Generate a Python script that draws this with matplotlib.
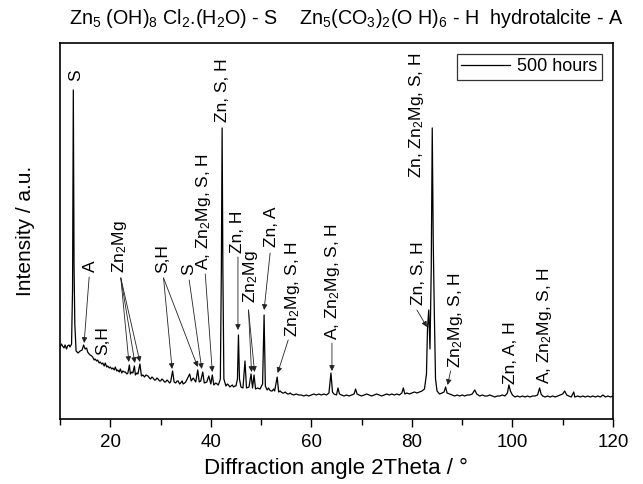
import matplotlib
matplotlib.use("Agg")
import matplotlib.pyplot as plt
from matplotlib.ticker import MultipleLocator

plt.rcParams['font.family'] = ['Liberation Sans', 'DejaVu Sans']
plt.rcParams['mathtext.fontset'] = 'custom'
plt.rcParams['mathtext.rm'] = 'Liberation Sans'
plt.rcParams['mathtext.it'] = 'Liberation Sans'

# ---------------- data (2Theta in degrees, intensity in arbitrary units) -------------
two_theta = [
    10.0, 10.3, 10.5, 10.8, 11.0, 11.3, 11.5, 11.8, 12.0, 12.3, 12.5, 12.65, 12.8, 12.95,
    13.2, 13.6, 14.0, 14.4, 14.7, 15.0, 15.3, 15.5, 15.8, 16.0, 16.3, 16.5, 16.8, 17.0,
    17.3, 17.5, 17.8, 18.0, 18.3, 18.5, 18.8, 19.0, 19.3, 19.5, 19.8, 20.0, 20.3, 20.5,
    20.8, 21.0, 21.3, 21.5, 21.8, 22.0, 22.3, 22.5, 22.8, 23.0, 23.3, 23.5, 23.8, 24.0,
    24.3, 24.5, 24.8, 25.0, 25.3, 25.5, 25.9, 26.2, 26.5, 26.8, 27.1, 27.5, 27.8, 28.0,
    28.3, 28.5, 28.8, 29.0, 29.3, 29.5, 29.8, 30.0, 30.3, 30.5, 30.8, 31.0, 31.3, 31.5,
    31.8, 32.0, 32.4, 32.7, 33.0, 33.3, 33.5, 33.8, 34.0, 34.3, 34.5, 34.8, 35.0, 35.5,
    35.8, 36.1, 36.5, 37.0, 37.4, 37.7, 38.0, 38.4, 38.7, 39.2, 39.6, 40.0, 40.3, 40.6,
    41.0, 41.5, 41.9, 42.1, 42.25, 42.4, 42.6, 43.0, 43.3, 43.5, 43.8, 44.0, 44.3, 44.5,
    44.8, 45.0, 45.3, 45.5, 45.7, 46.0, 46.4, 46.8, 47.1, 47.6, 48.0, 48.3, 48.6, 48.9,
    49.3, 49.8, 50.3, 50.6, 50.85, 51.2, 51.5, 51.7, 52.0, 52.2, 52.5, 52.7, 53.2, 53.5,
    53.8, 54.0, 54.3, 54.5, 54.8, 55.0, 55.3, 55.5, 55.8, 56.0, 56.5, 57.0, 57.5, 58.0,
    58.5, 59.0, 59.5, 60.0, 60.5, 61.0, 61.5, 62.0, 62.5, 63.0, 63.5, 63.9, 64.2, 64.5,
    65.0, 65.3, 65.6, 66.0, 66.5, 67.0, 67.5, 68.0, 68.5, 68.8, 69.1, 69.5, 70.0, 70.5,
    71.0, 71.5, 72.0, 72.5, 73.0, 73.5, 74.0, 74.5, 75.0, 75.5, 76.0, 76.5, 77.0, 77.5,
    78.0, 78.3, 78.6, 79.0, 79.5, 80.0, 80.5, 81.0, 81.5, 82.0, 82.5, 82.9, 83.1, 83.35,
    83.6, 83.85, 84.05, 84.25, 84.45, 84.7, 85.0, 85.5, 86.0, 86.4, 86.7, 87.0, 87.5, 88.0,
    88.5, 89.0, 89.5, 90.0, 90.5, 91.0, 91.5, 92.0, 92.5, 92.9, 93.5, 94.0, 94.5, 95.0,
    95.5, 96.0, 96.5, 97.0, 97.5, 98.0, 98.5, 99.0, 99.3, 99.6, 100.0, 100.5, 101.0, 101.5,
    102.0, 102.5, 103.0, 103.5, 104.0, 104.5, 105.0, 105.4, 105.7, 106.0, 106.5, 107.0, 107.5, 108.0,
    108.5, 109.0, 109.5, 110.0, 110.4, 110.8, 111.2, 111.7, 112.2, 112.4, 113.0, 113.5, 114.0, 114.5,
    115.0, 115.5, 116.0, 116.5, 117.0, 117.5, 118.0, 118.5, 119.0, 119.5, 120.0,
]
intensity = [
    72, 75, 73, 71, 74, 70, 73, 74, 72, 75, 130, 329, 150, 95,
    68, 66, 68, 69, 74, 70, 71, 67, 65, 64, 63, 62, 59, 60,
    58, 59, 56, 57, 55, 56, 53, 56, 52, 53, 51, 52, 50, 51,
    49, 52, 48, 49, 47, 50, 46, 48, 47, 47, 45, 46, 54, 45,
    47, 46, 53, 44, 46, 45, 55, 43, 44, 42, 44, 43, 41, 40,
    42, 41, 39, 39, 41, 40, 38, 38, 40, 39, 37, 37, 39, 38,
    36, 37, 48, 37, 36, 38, 38, 35, 36, 38, 35, 36, 37, 42,
    45, 38, 41, 37, 49, 37, 38, 47, 36, 37, 43, 35, 44, 34,
    36, 34, 40, 150, 291, 150, 40, 33, 35, 34, 32, 33, 34, 32,
    33, 33, 40, 84, 40, 32, 31, 58, 31, 32, 45, 31, 44, 30,
    31, 30, 35, 104, 33, 29, 31, 29, 28, 28, 30, 28, 42, 27,
    28, 27, 26, 26, 27, 26, 25, 25, 26, 25, 24, 25, 24, 24,
    23, 24, 23, 24, 25, 24, 25, 24, 25, 24, 26, 46, 27, 25,
    24, 31, 25, 24, 23, 24, 23, 24, 25, 30, 25, 24, 23, 24,
    25, 24, 23, 24, 25, 24, 23, 24, 25, 24, 25, 24, 25, 24,
    26, 31, 25, 26, 25, 26, 27, 26, 27, 28, 30, 45, 90, 109,
    70, 150, 291, 176, 110, 40, 28, 25, 26, 27, 32, 26, 25, 24,
    23, 24, 23, 24, 23, 24, 24, 25, 29, 25, 23, 24, 23, 23,
    24, 23, 22, 23, 23, 24, 23, 26, 34, 28, 24, 22, 23, 22,
    23, 22, 23, 22, 23, 23, 24, 31, 25, 23, 22, 23, 22, 23,
    22, 23, 24, 25, 28, 24, 23, 22, 27, 22, 23, 22, 23, 22,
    23, 22, 23, 22, 23, 22, 24, 22, 23, 22, 23,
]
series_label = "500 hours"

# peak annotations: text, (x, y) of text bottom, arrows (tail, tip) in data units
labels = [
    ("S", 13.1, 338, []),
    ("A", 16.0, 147, [((15.8, 142), (14.8, 76))]),
    ("S,H", 18.5, 64, []),
    ("Zn$_2$Mg", 21.9, 146, [((22.1, 141), (23.7, 57)), ((22.1, 141), (24.9, 56)),
                             ((22.1, 141), (25.9, 57))]),
    ("S,H", 30.5, 146, [((30.6, 141), (32.3, 50)), ((30.6, 141), (37.4, 52))]),
    ("S", 35.6, 144, [((35.7, 139), (38.2, 50))]),
    ("A, Zn$_2$Mg, S, H", 38.5, 149, [((38.9, 145), (40.3, 47))]),
    ("Zn, S, H", 42.4, 297, []),
    ("Zn, H", 45.4, 166, [((45.4, 162), (45.4, 89))]),
    ("Zn$_2$Mg", 47.8, 116, [((47.5, 109), (48.1, 47)), ((47.5, 109), (48.7, 47))]),
    ("Zn, A", 52.1, 172, [((51.8, 166), (50.6, 109))]),
    ("Zn$_2$Mg, S, H", 56.3, 82, [((55.4, 79), (53.3, 46))]),
    ("A, Zn$_2$Mg, S, H", 64.3, 79, [((64.1, 76), (64.1, 48))]),
    ("Zn, Zn$_2$Mg, S, H", 81.0, 241, []),
    ("Zn, S, H", 81.4, 114, [((81.0, 109), (83.0, 92))]),
    ("Zn$_2$Mg, S, H", 88.7, 51, [((87.7, 48), (87.1, 34))]),
    ("Zn, A, H", 99.7, 35, []),
    ("A, Zn$_2$Mg, S, H", 106.4, 35, []),
]

header = (r"Zn$_5$ (OH)$_8$ Cl$_2$.(H$_2$O) - S    "
          r"Zn$_5$(CO$_3$)$_2$(O H)$_6$ - H  hydrotalcite - A")

# ---------------- figure -------------
fig = plt.figure(figsize=(6.43, 4.84), dpi=100)
ax = fig.add_axes([0.0933, 0.1343, 0.86, 0.7769])

ax.plot(two_theta, intensity, color='black', lw=0.9, label=series_label)
ax.set_xlim(10, 120)
ax.set_ylim(0, 376)

ax.xaxis.set_major_locator(MultipleLocator(20))
ax.xaxis.set_minor_locator(MultipleLocator(10))
ax.tick_params(axis='x', which='major', direction='out', length=6, width=1,
               labelsize=13.5, pad=5)
ax.tick_params(axis='x', which='minor', direction='out', length=4, width=1)
ax.set_yticks([])
for sp in ax.spines.values():
    sp.set_linewidth(1.2)

ax.set_xlabel("Diffraction angle 2Theta / °", fontsize=16, labelpad=5)
ax.set_ylabel("Intensity / a.u.", fontsize=15, labelpad=18)

for text, x, y, arrows in labels:
    ax.text(x, y, text, rotation=90, ha='center', va='bottom', fontsize=12.5)
    for tail, tip in arrows:
        ax.annotate('', xy=tip, xytext=tail,
                    arrowprops=dict(arrowstyle='-|>', lw=0.6, color='#222222',
                                    mutation_scale=8, shrinkA=0, shrinkB=0))

leg = ax.legend(loc='upper right', fontsize=13, frameon=True, fancybox=False,
                edgecolor='black', handlelength=2.7, handletextpad=0.4,
                borderpad=0.25, borderaxespad=0.6)
leg.get_frame().set_linewidth(0.9)

fig.text(0.538, 0.962, header, ha='center', va='center', fontsize=14.2)

fig.savefig("out.png", dpi=100)
